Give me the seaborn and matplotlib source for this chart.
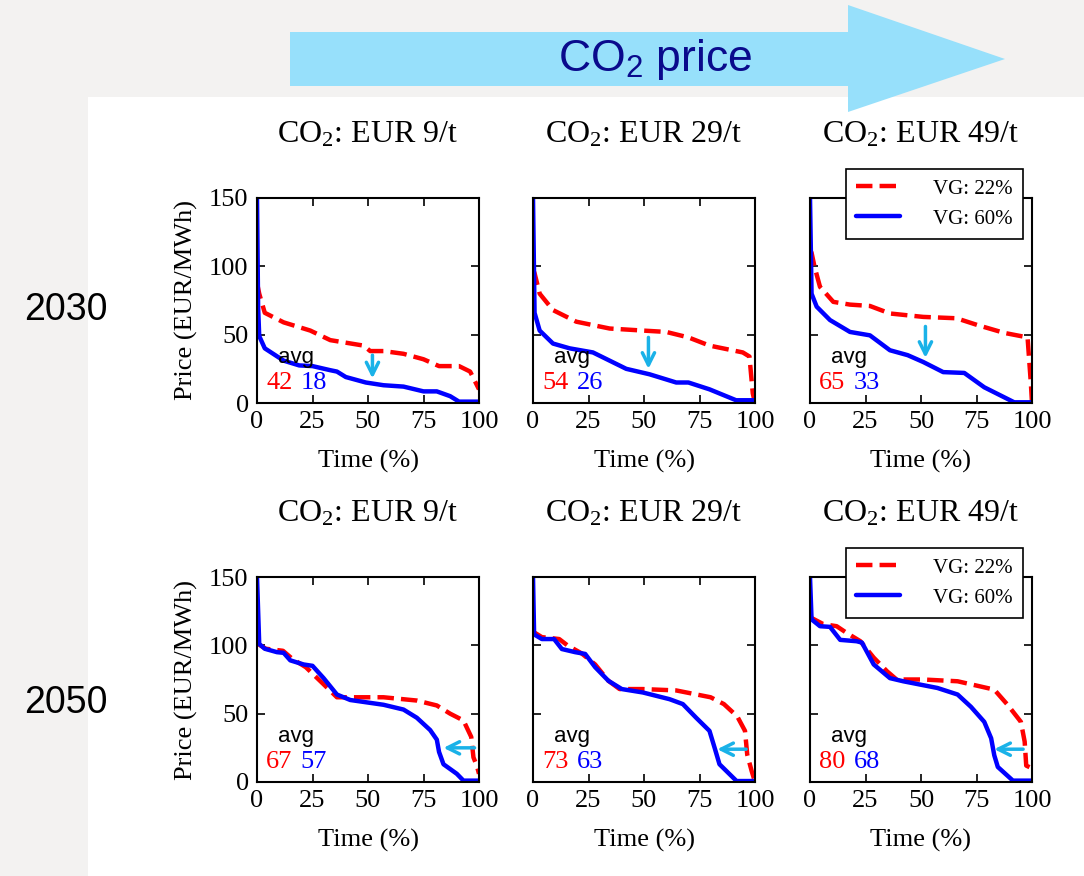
import numpy as np
import pandas as pd
import seaborn as sns
import matplotlib.pyplot as plt
from matplotlib.patches import Polygon, Rectangle

# price duration curves: time (%) and price (EUR/MWh)
# row 2030
t22_2030_9 = [0, 1, 3.5, 12, 24, 33, 48, 51, 57, 66, 75, 82, 91, 96, 100]
p22_2030_9 = [88, 80, 66, 59, 53, 46, 42, 38, 38, 36, 32, 27, 27, 23, 10]
t60_2030_9 = [0, 0.5, 1, 3.5, 12, 19, 25, 33, 36, 40, 49, 57, 66, 75, 81, 87, 91, 100]
p60_2030_9 = [150, 70, 49, 40, 31, 27.5, 27, 24, 23, 19, 15, 13, 12, 8.5, 8.5, 5, 1, 1]

t22_2030_29 = [0, 0.7, 3, 9, 19.5, 34.5, 49.5, 60, 70, 79.5, 94.5, 97.5, 99, 100]
p22_2030_29 = [98, 95, 80, 68, 59.5, 54.5, 53, 52, 48, 42, 37, 34, 7, 0]
t60_2030_29 = [0, 0.7, 3, 9, 16.5, 27, 34.5, 42, 52.5, 64.5, 70, 79.5, 91.5, 100]
p60_2030_29 = [150, 66, 53, 43.5, 40, 37, 31, 25, 21, 15, 15, 10, 2, 2]

t22_2030_49 = [0, 0.7, 2, 4.5, 10.5, 18, 27, 36, 51, 66, 75.5, 87.5, 98, 99.5, 100]
p22_2030_49 = [112, 110, 100, 85, 74, 72, 71, 65.5, 63, 62, 57, 51.3, 48, 14, 0]
t60_2030_49 = [0, 0.7, 3, 9, 18, 27, 36, 44, 51, 60, 69.5, 78.5, 92, 100]
p60_2030_49 = [150, 80, 70.5, 60.7, 52, 49.5, 38.6, 35, 30, 22.6, 22, 11.5, 0.5, 0.5]

# row 2050
t22_2050_9 = [0, 0.5, 4, 11.7, 16, 22, 30, 36, 42, 57, 72, 81, 87, 93, 96.5, 97.5, 99, 100]
p22_2050_9 = [103, 101, 97.5, 96, 90, 84, 71.5, 62, 62, 62, 59.6, 56, 50, 45, 33, 18, 12, 6]
t60_2050_9 = [0, 1, 3.5, 9, 12, 15, 21, 25, 30, 36, 42, 57, 66, 72, 78, 81, 82, 84, 90, 93, 100]
p60_2050_9 = [150, 101, 97.5, 95, 94.5, 89, 86, 85, 76, 64, 60, 56.5, 53, 47, 38, 31, 22, 13, 6, 1, 1]

t22_2050_29 = [0, 0.5, 4, 11.8, 15.5, 22, 28, 34, 39, 49.5, 64.5, 80, 86, 92, 95.5, 96.5, 98.5, 100]
p22_2050_29 = [112, 109.5, 106, 104.6, 100, 94, 86, 74, 68, 68, 67, 62, 57, 48, 37.4, 20, 8, 0]
t60_2050_29 = [0, 0.5, 4, 9.5, 13, 19, 23.5, 28, 34, 40, 49.5, 61.5, 67.5, 73.5, 79.5, 82, 84, 91.7, 100]
p60_2050_29 = [150, 108, 104.6, 104.6, 97.3, 95, 93.7, 84, 74, 68, 65.5, 60.6, 57, 47, 37.4, 24, 13, 0.7, 0.7]

t22_2050_49 = [0, 0.7, 6, 12, 16.6, 22.7, 28.7, 34.7, 39, 51, 66.5, 83, 89, 95, 96.7, 97.4, 100]
p22_2050_49 = [122, 120, 115.5, 114, 109, 103, 91, 81, 75, 75, 73.7, 67.6, 56.5, 44, 29.5, 12, 10]
t60_2050_49 = [0, 0.7, 4.5, 9, 13.6, 21, 23.4, 28.7, 36, 42, 57.4, 66.5, 72.5, 78.5, 81.6, 83, 84.6, 91.4, 100]
p60_2050_49 = [150, 119, 114, 113.5, 104, 103, 102, 86, 76, 73.7, 68.8, 64, 55, 44, 32, 19.6, 11, 1, 1]

years = ["2030", "2050"]
co2_prices = [9, 29, 49]
avg_vg22 = [[42, 54, 65], [67, 73, 80]]
avg_vg60 = [[18, 26, 33], [57, 63, 68]]

curves22 = [[(t22_2030_9, p22_2030_9), (t22_2030_29, p22_2030_29), (t22_2030_49, p22_2030_49)],
            [(t22_2050_9, p22_2050_9), (t22_2050_29, p22_2050_29), (t22_2050_49, p22_2050_49)]]
curves60 = [[(t60_2030_9, p60_2030_9), (t60_2030_29, p60_2030_29), (t60_2030_49, p60_2030_49)],
            [(t60_2050_9, p60_2050_9), (t60_2050_29, p60_2050_29), (t60_2050_49, p60_2050_49)]]

# cyan hint arrows: (start, end) in data units
arrows_2030 = [((52, 35), (52, 18)), ((52, 48), (52, 25)), ((52, 56), (52, 33))]
arrows_2050 = [((98, 25), (84, 25)), ((96, 24), (83, 24)), ((96, 24), (83, 24))]

RED = '#ff0000'
BLUE = '#0000ff'
CYAN = '#1ab2e8'

sns.set_style("ticks")
plt.rcParams['font.family'] = ['Liberation Serif', 'DejaVu Serif']
plt.rcParams['mathtext.fontset'] = 'custom'
plt.rcParams['mathtext.rm'] = 'Liberation Serif'
plt.rcParams['mathtext.it'] = 'Liberation Serif:italic'
plt.rcParams['mathtext.sf'] = 'Liberation Sans'
plt.rcParams['text.color'] = 'black'
plt.rcParams['axes.labelcolor'] = 'black'
plt.rcParams['xtick.color'] = 'black'
plt.rcParams['ytick.color'] = 'black'

W, H = 1084, 876
fig = plt.figure(figsize=(W / 100, H / 100), dpi=100, facecolor='#f3f2f1')

# white slide area (behind the axes)
fig.patches.append(Rectangle((88 / W, 0), 1 - 88 / W, 1 - 97 / H, transform=fig.transFigure,
                             facecolor='white', edgecolor='none', zorder=-2))
# big CO2 price arrow
pts = [(290, 32), (848, 32), (848, 5), (1005, 59), (848, 112), (848, 86), (290, 86)]
fig.patches.append(Polygon([(x / W, 1 - y / H) for x, y in pts], closed=True, transform=fig.transFigure,
                           facecolor='#97e0fb', edgecolor='none', zorder=-1))
fig.text(655 / W, 1 - 60 / H, r'CO$_\mathsf{2}$ price', family='Liberation Sans', fontsize=32,
         color='#0a0a8c', ha='center', va='center')

for r, yr in enumerate(years):
    fig.text(66 / W, 1 - (310 + 393 * r) / H, yr, family='Liberation Sans', fontsize=27,
             ha='center', va='center', color='black')

col_left = [257, 533, 810]
row_top = [198, 577]
aw, ah = 222, 205

for r in range(2):
    for c in range(3):
        ax = fig.add_axes([col_left[c] / W, 1 - (row_top[r] + ah) / H, aw / W, ah / H])
        ax.set_facecolor('white')
        with_leg = (c == 2)
        t22, p22 = curves22[r][c]
        t60, p60 = curves60[r][c]
        df22 = pd.DataFrame({'t': t22, 'p': p22})
        df60 = pd.DataFrame({'t': t60, 'p': p60})
        sns.lineplot(data=df22, x='t', y='p', sort=False, color=RED, lw=3.2, linestyle='--', ax=ax,
                     label='VG: 22%' if with_leg else None)
        sns.lineplot(data=df60, x='t', y='p', sort=False, color=BLUE, lw=3.2, ax=ax,
                     label='VG: 60%' if with_leg else None)

        ax.set_xlim(0, 100)
        ax.set_ylim(0, 150)
        ax.set_xticks([0, 25, 50, 75, 100])
        ax.set_yticks([0, 50, 100, 150])
        ax.tick_params(direction='in', top=True, right=True, length=6, width=1.2,
                       labelsize=19, pad=6, colors='black')
        for s in ax.spines.values():
            s.set_color('black')
            s.set_linewidth(1.5)
        ax.set_xlabel('Time (%)', fontsize=19, labelpad=12)
        if c == 0:
            ax.set_ylabel('Price (EUR/MWh)', fontsize=19, labelpad=8)
        else:
            ax.set_ylabel('')
            ax.tick_params(labelleft=False)

        ax.text(0.5, 1.31, 'CO$_2$: EUR %d/t' % co2_prices[c], transform=ax.transAxes,
                ha='center', va='center', fontsize=23)

        ax.text(17.5, 33, 'avg', family='Liberation Sans', fontsize=16, ha='center', va='center')
        ax.text(10, 14.5, str(avg_vg22[r][c]), color=RED, fontsize=19, ha='center', va='center')
        ax.text(25.5, 14.5, str(avg_vg60[r][c]), color=BLUE, fontsize=19, ha='center', va='center')

        start, end = (arrows_2030 if r == 0 else arrows_2050)[c]
        ax.annotate('', xy=end, xytext=start,
                    arrowprops=dict(arrowstyle='->', color=CYAN, lw=2.5, mutation_scale=22,
                                    shrinkA=0, shrinkB=0))

        if with_leg:
            leg = ax.legend(loc='upper right', bbox_to_anchor=(0.96, 1.143), fontsize=15,
                            frameon=True, fancybox=False, edgecolor='black', framealpha=1,
                            handlelength=2.1, borderpad=0.5, labelspacing=0.5,
                            handletextpad=1.6, borderaxespad=0)
            leg.get_frame().set_linewidth(1.2)
        elif ax.get_legend() is not None:
            ax.get_legend().remove()

fig.savefig('out.png', dpi=100, facecolor=fig.get_facecolor())
